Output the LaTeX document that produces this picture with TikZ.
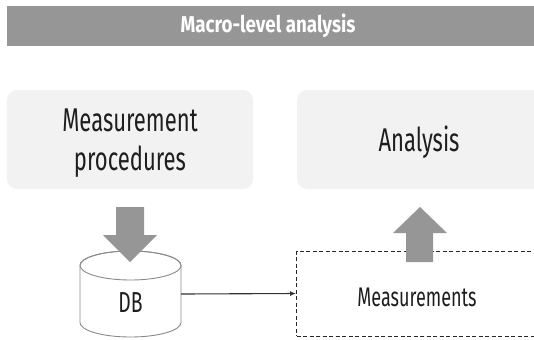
\documentclass[tikz,border=0pt]{standalone}
\usepackage{fontspec}
\setmainfont{Fira Sans}[FakeStretch=0.67]
\newfontfamily\bannerfont{Fira Sans}[FakeStretch=0.82]
\usetikzlibrary{arrows.meta}
\definecolor{bannergray}{HTML}{969696}
\definecolor{boxfill}{HTML}{F2F2F2}
\definecolor{cylline}{HTML}{8A8A8A}
\definecolor{textdark}{HTML}{1E1E1E}
\tikzset{
  softbox/.style={fill=boxfill, rounded corners=10bp, inner sep=0pt},
  boxtext/.style={align=center, text=textdark, inner sep=0pt,
    font=\fontsize{33}{39}\selectfont},
  dashbox/.style={draw=black!85, line width=1bp, dash pattern=on 4bp off 2.5bp,
    inner sep=0pt},
  blockarrow/.style={fill=bannergray, draw=none},
  link/.style={draw=black!80, line width=1.1bp, -{Latex[length=6bp,width=5bp]}},
}
\begin{document}
\begin{tikzpicture}[x=1bp,y=1bp]
\useasboundingbox (0,0) rectangle (534,-339);

% title banner
\node[fill=bannergray, minimum width=540bp, minimum height=40bp, inner sep=0pt,
  anchor=north west] (banner) at (7,-6) {};
\node[text=white, font=\bannerfont\bfseries\fontsize{23}{26}\selectfont]
  (title) at (268,-26) {Macro-level analysis};

% upper boxes
\node[softbox, minimum width=246bp, minimum height=99bp] (proc) at (130,-139.5) {};
\node[boxtext] (proclabel) at (130,-143) {Measurement\\procedures};
\node[softbox, minimum width=246bp, minimum height=99bp, anchor=west] (anal)
  at (297,-139.5) {};
\node[boxtext] (anallabel) at (419,-142) {Analysis};

% database cylinder
\node[minimum width=101bp, minimum height=86bp, inner sep=0pt] (db) at (130.5,-294) {};
\path[draw=cylline, line width=0.9bp, fill=white]
  (80,-265.5) -- (80,-322.5)
  arc[start angle=180, end angle=360, x radius=50.5, y radius=14.5]
  -- (181,-265.5)
  arc[start angle=0, end angle=180, x radius=50.5, y radius=14.5] -- cycle;
\draw[cylline, line width=0.9bp] (130.5,-265.5) ellipse[x radius=50.5, y radius=14.5];
\node[text=textdark, font=\fontsize{29}{34}\selectfont] (dblabel) at (130.5,-303) {DB};

% measurements store
\node[dashbox, minimum width=260bp, minimum height=85bp, anchor=west] (meas)
  at (296,-293.5) {};
\node[text=textdark, font=\fontsize{27}{31}\selectfont] (measlabel) at (417,-297.5) {Measurements};

% block arrows
\path[blockarrow] (116,-207) -- (144,-207) -- (144,-235) -- (157,-235) -- (130,-262)
  -- (103,-235) -- (116,-235) -- cycle;
\path[blockarrow] (406,-262) -- (433,-262) -- (433,-233) -- (447,-233) -- (420,-207)
  -- (393,-233) -- (406,-233) -- cycle;

% data flow from the database
\draw[link] (db.east) -- (meas.west);
\end{tikzpicture}
\end{document}
